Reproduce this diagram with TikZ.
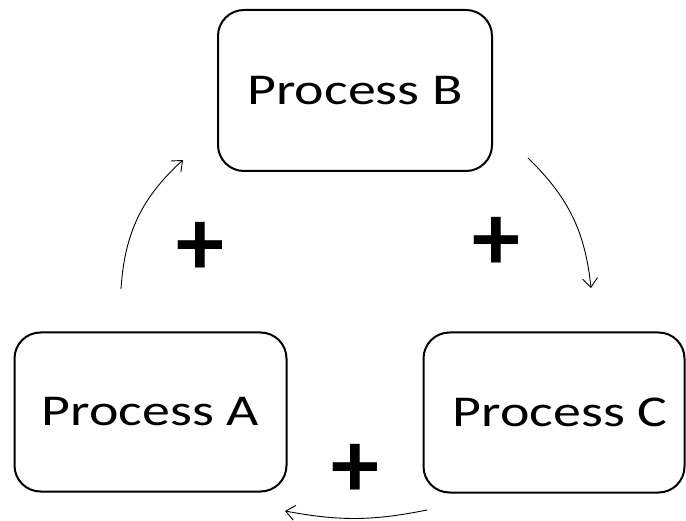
\documentclass[tikz,border=0pt]{standalone}
\usepackage{fontspec}
\setmainfont{Carlito}
\newfontfamily\procfont[FakeStretch=1.27]{Carlito}
\newfontfamily\plusfont{Carlito}
\usetikzlibrary{arrows.meta}
\begin{document}
\begin{tikzpicture}[x=1pt,y=-1pt,
  procbox/.style={draw=black, line width=2pt, rounded corners=26pt, inner sep=0pt,
    font=\procfont\fontsize{44}{50}\selectfont},
  plussign/.style={font=\plusfont\bfseries\fontsize{96}{96}\selectfont, inner sep=0pt},
  flow/.style={draw=black, line width=0.9pt, -{Straight Barb[length=9pt,width=15pt,line width=0.9pt]}}]
\useasboundingbox (0,0) rectangle (686,521);
\node[procbox, minimum width=274pt, minimum height=161pt] (B) at (355,90.5) {Process B};
\node[procbox, minimum width=272pt, minimum height=159pt] (A) at (150.5,412) {Process A};
\node[procbox, minimum width=261pt, minimum height=160pt] (C) at (554,412.5) {\hspace*{12pt}Process C};
\node[plussign] (p1) at (200,249) {+};
\node[plussign] (p2) at (496,244) {+};
\node[plussign] (p3) at (355,471) {+};
\coordinate (a1) at (121,289);
\coordinate (b1) at (183,160);
\coordinate (b2) at (528,158);
\coordinate (c1) at (591,288);
\coordinate (c2) at (427,510);
\coordinate (a2) at (285,511);
\draw[flow] (a1) to[bend left=22] (b1);
\draw[flow] (b2) to[bend left=20] (c1);
\draw[flow] (c2) to[bend left=11] (a2);
\end{tikzpicture}
\end{document}
